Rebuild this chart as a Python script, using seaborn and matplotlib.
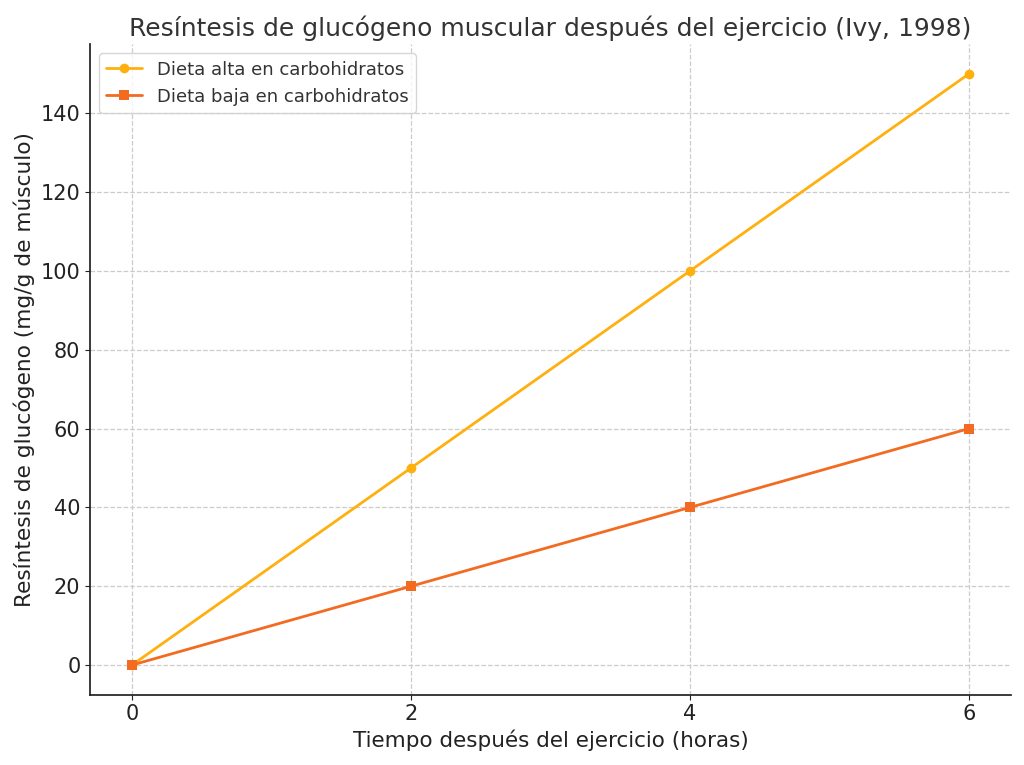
import matplotlib
matplotlib.use('Agg')
import matplotlib.pyplot as plt
import seaborn as sns
import pandas as pd

# Data
horas = [0, 2, 4, 6]
alta_carb = [0, 50, 100, 150]
baja_carb = [0, 20, 40, 60]
series_names = ['Dieta alta en carbohidratos', 'Dieta baja en carbohidratos']

df = pd.DataFrame({
    'horas': horas * 2,
    'valor': alta_carb + baja_carb,
    'serie': [series_names[0]] * len(horas) + [series_names[1]] * len(horas),
})

sns.set_style('ticks')
plt.rcParams['font.family'] = ['DejaVu Sans']

fig, ax = plt.subplots(figsize=(10.24, 7.65), dpi=100)
fig.subplots_adjust(left=0.088, right=0.987, top=0.942, bottom=0.092)

palette = {series_names[0]: '#FFB00F', series_names[1]: '#F26B21'}
sns.lineplot(data=df, x='horas', y='valor', hue='serie', style='serie',
             markers={series_names[0]: 'o', series_names[1]: 's'}, dashes=False,
             palette=palette, linewidth=2, markersize=7, markeredgewidth=0,
             ax=ax)

ax.set_title('Resíntesis de glucógeno muscular después del ejercicio (Ivy, 1998)',
             fontsize=18, color='#333333')
ax.set_xlabel('Tiempo después del ejercicio (horas)', fontsize=15.5, color='#222222')
ax.set_ylabel('Resíntesis de glucógeno (mg/g de músculo)', fontsize=15.6, color='#222222')
ax.set_xticks(horas)
ax.set_yticks(range(0, 141, 20))
ax.tick_params(labelsize=15, colors='#222222')
ax.set_xlim(-0.3, 6.3)
ax.set_ylim(-7.5, 157.5)
ax.grid(True, linestyle='--', color='#cccccc', linewidth=0.9)
sns.despine(ax=ax)
for side in ['left', 'bottom']:
    ax.spines[side].set_linewidth(1.25)
    ax.spines[side].set_color('#222222')

leg = ax.legend(loc='upper left', fontsize=13, frameon=True)
leg.get_frame().set_edgecolor('#cccccc')
for t in leg.get_texts():
    t.set_color('#333333')

plt.savefig('out.png', dpi=100)
